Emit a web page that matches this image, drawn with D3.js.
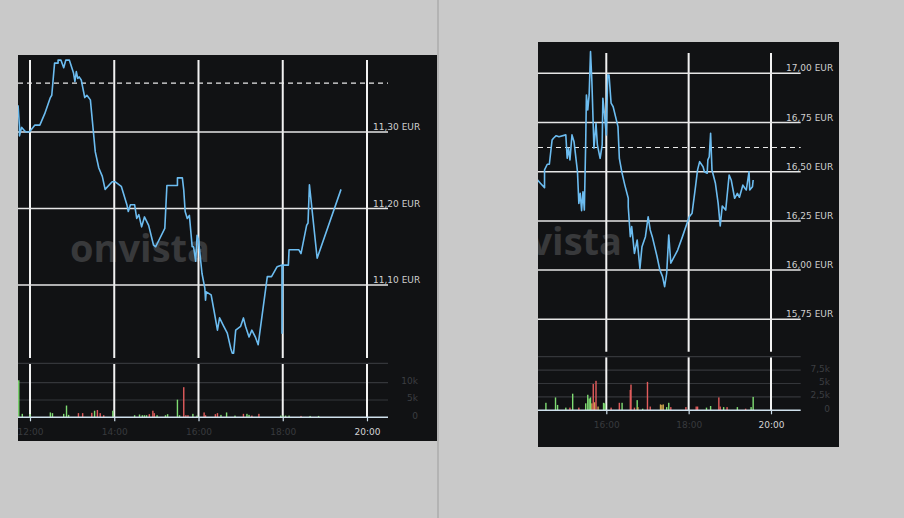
<!DOCTYPE html>
<html>
<head>
<meta charset="utf-8">
<script src="https://cdn.jsdelivr.net/npm/d3@7"></script>
<style>
  body { margin: 0; background: #c9c9c9; }
  svg { display: block; }
</style>
</head>
<body>
<div id="chart"></div>
<script>
/*jshint esversion: 6 */

// ---- left chart (11,xx EUR) ----
const leftTimes = ["11:43","11:45","11:45","11:48","11:51","11:54","11:58","12:00","12:07","12:14","12:21","12:29","12:31","12:35","12:40","12:40","12:44","12:48","12:51","12:56","13:02","13:04","13:06","13:08","13:10","13:13","13:18","13:21","13:26","13:33","13:38","13:43","13:47","13:57","14:01","14:10","14:18","14:20","14:23","14:29","14:32","14:35","14:39","14:43","14:49","14:56","14:59","15:12","15:15","15:30","15:30","15:37","15:39","15:41","15:44","15:47","15:51","15:53","15:56","15:58","16:00","16:05","16:09","16:10","16:11","16:18","16:22","16:27","16:30","16:36","16:41","16:46","16:48","16:50","16:53","17:00","17:04","17:07","17:12","17:16","17:21","17:25","17:38","17:44","17:52","17:59","17:59","18:00","18:08","18:09","18:23","18:26","18:34","18:36","18:38","18:49","19:23"];
const leftPrices = [11.335,11.307,11.295,11.306,11.303,11.300,11.300,11.301,11.309,11.309,11.324,11.345,11.348,11.390,11.390,11.394,11.394,11.384,11.394,11.394,11.377,11.366,11.379,11.370,11.372,11.368,11.345,11.348,11.342,11.274,11.253,11.242,11.225,11.235,11.235,11.229,11.205,11.196,11.205,11.205,11.187,11.192,11.176,11.189,11.178,11.152,11.150,11.174,11.230,11.230,11.240,11.240,11.224,11.196,11.187,11.191,11.150,11.150,11.131,11.165,11.159,11.115,11.096,11.080,11.091,11.087,11.067,11.041,11.057,11.046,11.037,11.017,11.011,11.011,11.041,11.046,11.057,11.046,11.032,11.041,11.032,11.022,11.111,11.111,11.124,11.126,11.037,11.126,11.126,11.146,11.146,11.141,11.178,11.181,11.231,11.135,11.225];
const leftVolTimes = ["11:44","11:49","12:00","12:29","12:32","12:48","12:52","12:55","13:09","13:15","13:28","13:32","13:36","13:40","13:45","13:58","14:29","14:36","14:40","14:43","14:46","14:50","14:55","14:57","15:01","15:13","15:16","15:30","15:33","15:39","15:42","15:45","15:52","15:58","16:08","16:10","16:24","16:27","16:32","16:40","16:52","17:04","17:09","17:12","17:16","17:26","17:57","18:00","18:04","18:09","18:26","18:39","18:51"];
const leftVolumes = [10.7,1.0,0.9,1.4,1.2,1.0,3.4,0.7,1.2,1.2,1.3,1.9,2.1,1.2,0.6,1.9,0.6,0.8,0.6,0.6,0.6,0.9,1.9,1.2,0.6,0.6,0.9,5.1,0.6,8.7,0.6,0.6,1.0,0.5,1.4,0.6,0.9,1.2,0.7,1.4,0.5,1.0,1.0,0.7,0.5,1.0,0.5,0.5,0.5,0.5,0.4,0.4,0.4];
const leftVolDir = ["up","up","up","up","up","up","up","up","down","down","down","up","down","down","down","up","up","up","up","up","up","down","down","down","up","up","up","up","up","down","down","down","up","up","down","down","down","down","up","up","up","down","up","up","down","down","up","up","up","up","down","up","up"];
const leftPriceTicks = [11.1, 11.2, 11.3];
const leftRefPrice = 11.364;
const leftTimeTicks = ["12:00","14:00","16:00","18:00","20:00"];
const leftVolTicks = [0, 5, 10];

// ---- right chart (16,xx EUR) ----
const rightTimes = ["14:19","14:24","14:30","14:30","14:34","14:37","14:41","14:43","14:47","14:51","15:01","15:03","15:05","15:07","15:10","15:13","15:18","15:20","15:22","15:24","15:26","15:28","15:30","15:31","15:33","15:35","15:37","15:39","15:42","15:45","15:47","15:51","15:54","15:55","15:57","16:00","16:02","16:04","16:07","16:10","16:17","16:19","16:23","16:27","16:32","16:32","16:35","16:37","16:41","16:45","16:49","16:52","16:57","17:01","17:04","17:07","17:14","17:18","17:22","17:25","17:28","17:31","17:34","17:39","17:44","17:51","17:56","18:01","18:05","18:10","18:13","18:16","18:21","18:23","18:27","18:28","18:30","18:32","18:34","18:39","18:43","18:46","18:49","18:54","18:59","19:02","19:07","19:11","19:14","19:19","19:22","19:24","19:28","19:29","19:33","19:34"];
const rightPrices = [16.461,16.441,16.419,16.509,16.538,16.538,16.661,16.670,16.683,16.678,16.687,16.568,16.619,16.560,16.687,16.652,16.500,16.339,16.390,16.302,16.398,16.305,16.652,16.890,16.814,16.890,17.110,16.957,16.619,16.746,16.636,16.568,16.636,16.873,16.805,16.687,16.991,16.991,16.848,16.830,16.729,16.568,16.492,16.432,16.365,16.322,16.170,16.221,16.085,16.153,16.009,16.119,16.170,16.271,16.204,16.170,16.068,16.001,15.967,15.916,15.984,16.178,16.035,16.068,16.102,16.170,16.221,16.271,16.289,16.424,16.509,16.551,16.525,16.500,16.492,16.560,16.576,16.695,16.509,16.441,16.339,16.224,16.326,16.305,16.483,16.458,16.365,16.390,16.370,16.432,16.416,16.407,16.500,16.407,16.424,16.458];
const rightVolTimes = ["14:32","14:46","14:49","15:01","15:07","15:11","15:20","15:30","15:33","15:35","15:37","15:39","15:41","15:43","15:45","15:48","15:56","15:58","16:07","16:19","16:23","16:35","16:36","16:41","16:45","16:46","16:53","17:00","17:04","17:19","17:21","17:23","17:28","17:31","17:34","17:56","18:11","18:13","18:26","18:32","18:44","18:46","18:51","18:56","19:11","19:23","19:31","19:34"];
const rightVolumes = [1.4,2.4,1.0,0.5,0.5,3.1,0.5,1.3,2.9,2.2,2.4,1.3,4.9,1.5,5.5,0.7,1.4,1.3,0.5,1.4,1.4,3.8,4.8,0.5,1.9,0.6,0.3,5.3,0.7,1.1,1.0,1.1,0.6,1.4,0.6,0.6,0.7,0.7,0.5,0.8,2.4,0.7,0.6,0.6,0.6,0.3,0.6,2.5];
const rightVolDir = ["up","up","up","up","down","up","down","up","up","up","up","flat","down","flat","down","flat","up","up","down","down","up","down","down","down","up","flat","up","down","down","flat","flat","flat","up","up","down","down","down","down","up","up","down","down","up","down","up","down","up","up"];
const rightPriceTicks = [15.75, 16.00, 16.25, 16.50, 16.75, 17.00];
const rightRefPrice = 16.623;
const rightTimeTicks = ["16:00","18:00","20:00"];
const rightVolTicks = [0, 2.5, 5, 7.5];

const W = 904, H = 518;
const parseTime = d3.timeParse("%H:%M");
const de = d3.formatLocale({decimal: ",", thousands: ".", grouping: [3], currency: ["", " €"]});
const priceFmt = de.format(".2f");
const volFmt = (v) => v === 0 ? "0" : de.format("~g")(v) + "k";

const lineColor = "#6cbcf0";
const barColors = {up: "#7fdc72", down: "#e25c5c", flat: "#caa24c"};

const svg = d3.select("#chart").append("svg")
    .attr("width", W)
    .attr("height", H)
    .style("font-family", "'DejaVu Sans', Verdana, sans-serif");

svg.append("rect").attr("width", W).attr("height", H).attr("fill", "#c9c9c9");
svg.append("rect").attr("x", 437).attr("y", 0).attr("width", 2).attr("height", H).attr("fill", "#b3b3b3");

drawChart({
    id: "left",
    panel: {x: 18, y: 55, w: 419, h: 386},
    plotRight: 388,
    timeRange: [30, 367],
    priceRange: [285, 132],
    priceTop: 60, priceBottom: 358,
    volTop: 363.3, volBase: 417.3, volMax: 15.6,
    labelX: 373, volLabelX: 418, timeLabelY: 435,
    mark: {x: 70, y: 262}
}, {
    times: leftTimes, prices: leftPrices,
    volTimes: leftVolTimes, volumes: leftVolumes, volDir: leftVolDir,
    priceTicks: leftPriceTicks, refPrice: leftRefPrice,
    timeTicks: leftTimeTicks, volTicks: leftVolTicks
});

drawChart({
    id: "right",
    panel: {x: 538, y: 42, w: 301, h: 405},
    plotRight: 800.7,
    timeRange: [606.3, 771],
    priceRange: [319.3, 73.3],
    priceTop: 53, priceBottom: 351.7,
    volTop: 356.7, volBase: 410.3, volMax: 10,
    labelX: 786, volLabelX: 830, timeLabelY: 428,
    mark: {x: 482, y: 255}
}, {
    times: rightTimes, prices: rightPrices,
    volTimes: rightVolTimes, volumes: rightVolumes, volDir: rightVolDir,
    priceTicks: rightPriceTicks, refPrice: rightRefPrice,
    timeTicks: rightTimeTicks, volTicks: rightVolTicks
});

function drawChart(c, d){
    const p = c.panel;

    svg.append("clipPath").attr("id", "clip-" + c.id)
        .append("rect").attr("x", p.x).attr("y", p.y).attr("width", p.w).attr("height", p.h);

    const g = svg.append("g").attr("clip-path", "url(#clip-" + c.id + ")");

    g.append("rect")
        .attr("x", p.x).attr("y", p.y)
        .attr("width", p.w).attr("height", p.h)
        .attr("fill", "#111214");

    // watermark
    g.append("text")
        .attr("x", c.mark.x)
        .attr("y", c.mark.y)
        .attr("font-size", 37)
        .attr("font-weight", 700)
        .attr("font-family", "'Open Sans', sans-serif")
        .attr("textLength", 140)
        .attr("lengthAdjust", "spacingAndGlyphs")
        .attr("fill", "#38393b")
        .text("onvista");

    const x = d3.scaleTime()
        .domain([parseTime(d.timeTicks[0]), parseTime(d.timeTicks[d.timeTicks.length - 1])])
        .range(c.timeRange);
    const y = d3.scaleLinear()
        .domain([d.priceTicks[0], d.priceTicks[d.priceTicks.length - 1]])
        .range(c.priceRange);
    const yv = d3.scaleLinear()
        .domain([0, c.volMax])
        .range([c.volBase, c.volTop]);

    // volume grid
    g.append("line")
        .attr("x1", p.x).attr("x2", c.plotRight)
        .attr("y1", c.volTop).attr("y2", c.volTop)
        .attr("stroke", "#34363a").attr("stroke-width", 1.2);
    g.selectAll(".vgrid")
        .data(d.volTicks.filter((v) => v > 0))
        .enter().append("line")
        .attr("x1", p.x).attr("x2", c.plotRight)
        .attr("y1", (v) => yv(v)).attr("y2", (v) => yv(v))
        .attr("stroke", "#34363a").attr("stroke-width", 1.2);

    // vertical time gridlines (price + volume)
    d.timeTicks.forEach((t) => {
        const tx = x(parseTime(t));
        g.append("line")
            .attr("x1", tx).attr("x2", tx)
            .attr("y1", c.priceTop).attr("y2", c.priceBottom)
            .attr("stroke", "#f2f2f2").attr("stroke-width", 2);
        g.append("line")
            .attr("x1", tx).attr("x2", tx)
            .attr("y1", c.volTop + 0.7).attr("y2", c.volBase)
            .attr("stroke", "#f2f2f2").attr("stroke-width", 2);
    });

    // price gridlines + labels
    g.selectAll(".pgrid")
        .data(d.priceTicks)
        .enter().append("line")
        .attr("x1", p.x).attr("x2", c.plotRight)
        .attr("y1", (v) => y(v)).attr("y2", (v) => y(v))
        .attr("stroke", "#e6e6e6").attr("stroke-width", 1.5);
    g.selectAll(".plabel")
        .data(d.priceTicks)
        .enter().append("text")
        .attr("x", c.labelX)
        .attr("y", (v) => y(v) - 2)
        .attr("font-size", 9)
        .attr("fill", "#cfcfcf")
        .text((v) => priceFmt(v) + " EUR");

    // reference (previous close) line
    g.append("line")
        .attr("x1", p.x).attr("x2", c.plotRight)
        .attr("y1", y(d.refPrice)).attr("y2", y(d.refPrice))
        .attr("stroke", "#e8e8e8").attr("stroke-width", 1.2)
        .attr("stroke-dasharray", "5,4");

    // price line
    const pts = d.times.map((t, i) => [parseTime(t), d.prices[i]]);
    g.append("path")
        .datum(pts)
        .attr("fill", "none")
        .attr("stroke", lineColor)
        .attr("stroke-width", 1.6)
        .attr("stroke-linejoin", "round")
        .attr("d", d3.line().x((q) => x(q[0])).y((q) => y(q[1])));

    // volume bars
    const bars = d.volTimes.map((t, i) => ({t: parseTime(t), v: d.volumes[i], dir: d.volDir[i]}));
    g.selectAll(".bar")
        .data(bars)
        .enter().append("rect")
        .attr("x", (b) => x(b.t) - 0.7)
        .attr("y", (b) => yv(b.v))
        .attr("width", 1.4)
        .attr("height", (b) => yv(0) - yv(b.v))
        .attr("fill", (b) => barColors[b.dir]);

    // volume labels
    g.selectAll(".vlabel")
        .data(d.volTicks)
        .enter().append("text")
        .attr("x", c.volLabelX)
        .attr("y", (v) => yv(v) + 1.5)
        .attr("text-anchor", "end")
        .attr("font-size", 9)
        .attr("fill", "#3c3e42")
        .text(volFmt);

    // time axis
    g.append("line")
        .attr("x1", p.x).attr("x2", c.plotRight)
        .attr("y1", c.volBase).attr("y2", c.volBase)
        .attr("stroke", "#cfe0ec").attr("stroke-width", 1.5);

    const axis = g.append("g")
        .attr("transform", "translate(0," + c.volBase + ")")
        .call(d3.axisBottom(x)
            .tickValues(d.timeTicks.map(parseTime))
            .tickSize(4)
            .tickFormat(d3.timeFormat("%H:%M")));
    axis.select(".domain").remove();
    axis.selectAll(".tick line").attr("stroke", "#cfe0ec").attr("stroke-width", 1.2);
    axis.selectAll(".tick text")
        .attr("y", c.timeLabelY - c.volBase)
        .attr("dy", 0)
        .attr("font-size", 9)
        .attr("font-family", "'DejaVu Sans', Verdana, sans-serif")
        .attr("fill", (t, i) => i === d.timeTicks.length - 1 ? "#d4d4d4" : "#383a3e");
}
</script>
</body>
</html>
